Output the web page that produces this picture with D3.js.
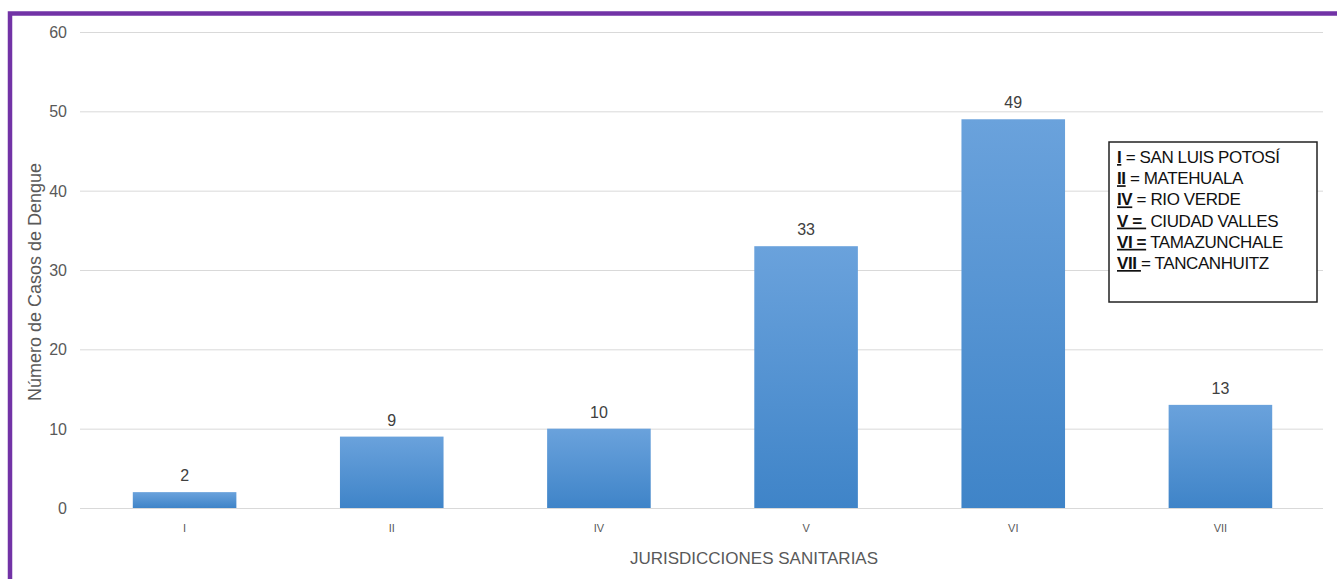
<!DOCTYPE html>
<html><head><meta charset="utf-8">
<script src="https://cdn.jsdelivr.net/npm/d3@7"></script>
<style>body{margin:0;background:#fff;} svg{display:block;font-family:"Liberation Sans",Arial,sans-serif;}</style>
</head><body>
<svg id="c" width="1337" height="579"></svg>
<script>
const categories = ["I","II","IV","V","VI","VII"];
const values = [2,9,10,33,49,13];
const yTicks = [0,10,20,30,40,50,60];
const legendCodes = ["I","II","IV","V = ","VI =","VII "];
const legendRest = [" = SAN LUIS POTOSÍ"," = MATEHUALA"," = RIO VERDE"," CIUDAD VALLES"," TAMAZUNCHALE","= TANCANHUITZ"];
const yTitle = "Número de Casos de Dengue";
const xTitle = "JURISDICCIONES SANITARIAS";

const svg = d3.select("#c");
const defs = svg.append("defs");
const g = defs.append("linearGradient").attr("id","bg").attr("x1",0).attr("y1",0).attr("x2",0).attr("y2",1);
g.append("stop").attr("offset","0%").attr("stop-color","#6aa2dc");
g.append("stop").attr("offset","100%").attr("stop-color","#3f84c8");

// purple frame
svg.append("rect").attr("x",10).attr("y",13.5).attr("width",1400).attr("height",700)
  .attr("fill","none").attr("stroke","#7233a6").attr("stroke-width",4.5);

const x = d3.scaleBand().domain(categories).range([81,1324]).paddingInner(0.5).paddingOuter(0.25);
const y = d3.scaleLinear().domain([0,60]).range([508,32]);

svg.append("g").selectAll("line").data(yTicks).join("line")
  .attr("x1",80).attr("x2",1323).attr("y1",d=>y(d)+0.5).attr("y2",d=>y(d)+0.5)
  .attr("stroke","#d9d9d9").attr("stroke-width",1);

svg.append("g").selectAll("text").data(yTicks).join("text")
  .attr("x",67).attr("y",d=>y(d)+6).attr("text-anchor","end")
  .attr("font-size",16).attr("fill","#595959").text(d=>d);

svg.append("g").selectAll("rect").data(values).join("rect")
  .attr("x",(d,i)=>x(categories[i])).attr("width",x.bandwidth())
  .attr("y",d=>y(d)).attr("height",d=>y(0)-y(d)).attr("fill","url(#bg)");

svg.append("g").selectAll("text").data(values).join("text")
  .attr("x",(d,i)=>x(categories[i])+x.bandwidth()/2).attr("y",d=>y(d)-11)
  .attr("text-anchor","middle").attr("font-size",16).attr("fill","#404040").text(d=>d);

svg.append("g").selectAll("text").data(categories).join("text")
  .attr("x",d=>x(d)+x.bandwidth()/2).attr("y",532).attr("text-anchor","middle")
  .attr("font-size",11).attr("fill","#595959").text(d=>d);

svg.append("text").attr("x",754).attr("y",564).attr("text-anchor","middle")
  .attr("font-size",17).attr("fill","#595959").text(xTitle);

svg.append("text").attr("transform","translate(41,282) rotate(-90)").attr("text-anchor","middle")
  .attr("font-size",18).attr("fill","#595959").text(yTitle);

// legend box
svg.append("rect").attr("x",1109).attr("y",142).attr("width",208).attr("height",160)
  .attr("fill","#fff").attr("stroke","#222").attr("stroke-width",1.5);
const lg = svg.append("g");
legendCodes.forEach((c,i)=>{
  const t = lg.append("text").attr("x",1117).attr("y",163+i*21.2).attr("font-size",17).attr("fill","#111")
    .attr("letter-spacing","-0.4").style("white-space","pre");
  t.append("tspan").attr("font-weight","bold").attr("text-decoration","underline").text(c);
  t.append("tspan").text(legendRest[i]);
});
</script>
</body></html>
